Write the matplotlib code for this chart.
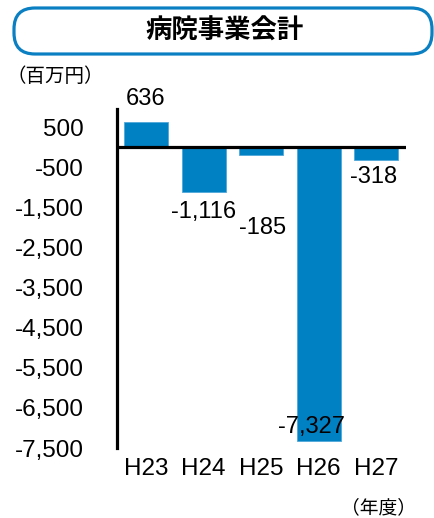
import matplotlib
matplotlib.use('Agg')
import matplotlib.pyplot as plt
from matplotlib.patches import FancyBboxPatch
from matplotlib.transforms import IdentityTransform

# data
years = ['H23', 'H24', 'H25', 'H26', 'H27']
balance = [636, -1116, -185, -7327, -318]
ytick_vals = [500, -500, -1500, -2500, -3500, -4500, -5500, -6500, -7500]

# label offsets in pixels (dx, dy) relative to the bar end
label_offsets = [(0, 23), (0, -20), (1, -73), (-7, 14), (-3, -17)]

bar_color = '#0081C4'
jp_font = ['Noto Sans CJK JP', 'DejaVu Sans']
num_font = ['Liberation Sans', 'DejaVu Sans']

fig = plt.figure(figsize=(4.34, 5.18), dpi=100)
W, H = 434, 518
ax = fig.add_axes([117 / W, 1 - 448 / H, (406 - 117) / W, (448 - 109) / H])

x = list(range(len(years)))
ax.bar(x, balance, width=0.765, color=bar_color, edgecolor='#4FA8DA', linewidth=0.6, zorder=2)
ax.axhline(0, color='black', lw=2.3, zorder=3)

ax.set_xlim(-0.505, 4.52)
ax.set_ylim(-7500, 960)

ax.set_yticks(ytick_vals)
ax.set_yticklabels([f'{v:,}' for v in ytick_vals], fontsize=17.5, family=num_font)
ax.set_xticks(x)
ax.set_xticklabels(years, fontsize=17.5, family=num_font)
ax.tick_params(axis='y', length=0, pad=24)
ax.tick_params(axis='x', length=0, pad=7)

for s in ['top', 'right', 'bottom']:
    ax.spines[s].set_visible(False)
ax.spines['left'].set_linewidth(2.3)

for xi, v, (dx, dy) in zip(x, balance, label_offsets):
    ax.annotate(f'{v:,}', (xi, v), xytext=(dx, dy), textcoords='offset pixels',
                ha='center', va='center', fontsize=17, family=num_font, zorder=4)

# title box, drawn in pixel coordinates (origin bottom left)
box = FancyBboxPatch((14, H - 54), 432 - 14, 46,
                     boxstyle='round,pad=0,rounding_size=21', transform=IdentityTransform(),
                     facecolor='white', edgecolor='#0A7FC2', linewidth=2.3)
fig.patches.append(box)
fig.text(225 / W, 1 - 31 / H, '病院事業会計', ha='center', va='center',
         fontsize=19, fontweight='bold', family=jp_font)

fig.text(6 / W, 1 - 76 / H, '（百万円）', ha='left', va='center', fontsize=14, family=jp_font)
fig.text(416 / W, 1 - 508 / H, '（年度）', ha='right', va='center', fontsize=13.5, family=jp_font)

fig.savefig('out.png', dpi=100)
